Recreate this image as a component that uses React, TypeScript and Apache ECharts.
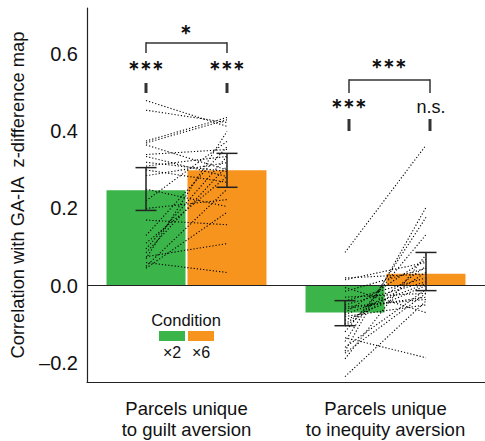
import React, { useEffect, useRef } from "react";
import * as echarts from "echarts";

const categories = ["Parcels unique\nto guilt aversion", "Parcels unique\nto inequity aversion"];
const conditions = ["×2", "×6"];
const meanX2 = [0.247, -0.07];
const meanX6 = [0.299, 0.031];
const errLowX2 = [0.195, -0.104];
const errHighX2 = [0.306, -0.039];
const errLowX6 = [0.255, -0.013];
const errHighX6 = [0.343, 0.086];
const yTicks = [-0.2, 0, 0.2, 0.4, 0.6];

const guiltX2 = [0.48, 0.455, 0.375, 0.37, 0.365, 0.34, 0.335, 0.32, 0.31, 0.3, 0.285, 0.25, 0.22, 0.2, 0.17, 0.13, 0.11, 0.095, 0.085, 0.075, 0.07, 0.06, 0.05, 0.045];
const guiltX6 = [0.413, 0.423, 0.436, 0.43, 0.3, 0.353, 0.283, 0.296, 0.335, 0.268, 0.319, 0.205, 0.374, 0.223, 0.158, 0.36, 0.283, 0.335, 0.31, 0.109, 0.4, 0.034, 0.25, 0.19];
const inequityX2 = [0.086, 0.02, 0.015, -0.005, -0.015, -0.03, -0.04, -0.05, -0.055, -0.06, -0.07, -0.075, -0.08, -0.09, -0.1, -0.105, -0.12, -0.135, -0.145, -0.16, -0.17, -0.175, -0.19, -0.236];
const inequityX6 = [0.364, 0.03, 0.06, -0.07, 0.045, -0.02, 0.02, 0.01, -0.036, -0.03, 0.068, 0.005, -0.05, 0.0, 0.05, 0.035, 0.132, -0.187, 0.177, -0.01, 0.203, -0.02, 0.08, -0.04];

const GREEN = "#3bb54a";
const ORANGE = "#f7941e";
const FONT = "Liberation Sans, Arial, Helvetica, sans-serif";
const HALF = 40.5; // offset from category center to each bar center (px)

export default function App() {
  const ref = useRef<HTMLDivElement>(null);
  useEffect(() => {
    if (!ref.current) return;
    const chart = echarts.init(ref.current, null, { renderer: "svg" });

    const pairData: number[][] = [];
    guiltX2.forEach((v, i) => pairData.push([0, v, guiltX6[i]]));
    inequityX2.forEach((v, i) => pairData.push([1, v, inequityX6[i]]));

    const errData: number[][] = [];
    for (let i = 0; i < categories.length; i++) {
      errData.push([i, errLowX2[i], errHighX2[i], -1]);
      errData.push([i, errLowX6[i], errHighX6[i], 1]);
    }

    const txt = (x: number, y: number, text: string, size: number, bold = false) => ({
      type: "text",
      x,
      y,
      style: {
        text,
        fontSize: size,
        fontFamily: FONT,
        fontWeight: bold ? "bold" : "normal",
        fill: "#111",
        align: "center",
        verticalAlign: "middle",
      },
      z: 100,
    });
    const ln = (x1: number, y1: number, x2: number, y2: number, w = 1.5) => ({
      type: "line",
      shape: { x1, y1, x2, y2 },
      style: { stroke: "#333", lineWidth: w },
      z: 100,
    });
    const STARS = "\u2217\u2217\u2217";

    chart.setOption({
      animation: false,
      grid: { left: 87, top: 8, width: 405, height: 374 },
      xAxis: {
        type: "category",
        data: categories,
        axisLine: { onZero: false, lineStyle: { color: "#222", width: 1.2 } },
        axisTick: { show: false },
        axisLabel: {
          interval: 0,
          hideOverlap: false,
          color: "#111",
          fontSize: 18.5,
          fontFamily: FONT,
          lineHeight: 21,
          margin: 16,
        },
      },
      yAxis: {
        type: "value",
        min: -0.25,
        max: 0.72,
        name: "Correlation with GA-IA  z-difference map",
        nameLocation: "middle",
        nameGap: 61,
        nameTextStyle: { color: "#111", fontSize: 18.3, fontFamily: FONT },
        axisLine: { show: true, lineStyle: { color: "#222", width: 1.2 } },
        axisTick: { show: false },
        splitLine: { show: false },
        axisLabel: {
          customValues: yTicks,
          color: "#111",
          fontSize: 20,
          fontFamily: FONT,
          margin: 9,
          formatter: (v: number) => (v < 0 ? "\u2013" + Math.abs(v).toFixed(1) : v.toFixed(1)),
        },
      },
      series: [
        {
          name: conditions[0],
          type: "bar",
          data: meanX2,
          barWidth: 79,
          barGap: "2.5%",
          itemStyle: { color: GREEN },
          z: 2,
          markLine: {
            silent: true,
            symbol: "none",
            label: { show: false },
            lineStyle: { color: "#222", width: 1.2, type: "solid" },
            data: [{ yAxis: 0 }],
          },
        },
        {
          name: conditions[1],
          type: "bar",
          data: meanX6,
          barWidth: 79,
          barGap: "2.5%",
          itemStyle: { color: ORANGE },
          z: 2,
        },
        {
          type: "custom",
          z: 5,
          data: pairData,
          renderItem: (params: any, api: any) => {
            const c = api.value(0);
            const p1 = api.coord([c, api.value(1)]);
            const p2 = api.coord([c, api.value(2)]);
            return {
              type: "line",
              shape: { x1: p1[0] - HALF, y1: p1[1], x2: p2[0] + HALF, y2: p2[1] },
              style: { stroke: "#000", lineWidth: 1.1, lineDash: [1.2, 2], fill: null },
            };
          },
        },
        {
          type: "custom",
          z: 6,
          data: errData,
          renderItem: (params: any, api: any) => {
            const c = api.value(0);
            const side = api.value(3);
            const lo = api.coord([c, api.value(1)]);
            const hi = api.coord([c, api.value(2)]);
            const x = lo[0] + side * HALF;
            const cap = 10.5;
            const st = { stroke: "#222", lineWidth: 1.5 };
            return {
              type: "group",
              children: [
                { type: "line", shape: { x1: x, y1: lo[1], x2: x, y2: hi[1] }, style: st },
                { type: "line", shape: { x1: x - cap, y1: lo[1], x2: x + cap, y2: lo[1] }, style: st },
                { type: "line", shape: { x1: x - cap, y1: hi[1], x2: x + cap, y2: hi[1] }, style: st },
              ],
            };
          },
        },
      ],
      graphic: [
        // guilt aversion annotations
        txt(186, 29, "\u2217", 14, true),
        ln(146, 43, 227, 43),
        ln(146, 42.3, 146, 53),
        ln(227, 42.3, 227, 53),
        txt(146, 65, STARS, 14, true),
        txt(227, 65, STARS, 14, true),
        ln(146, 83, 146, 93, 3),
        ln(227, 83, 227, 93, 3),
        // inequity aversion annotations
        txt(389, 63, STARS, 14, true),
        ln(349, 80, 430, 80),
        ln(349, 79.3, 349, 93),
        ln(430, 79.3, 430, 93),
        txt(349, 103, STARS, 14, true),
        txt(431, 107, "n.s.", 18),
        ln(349, 119, 349, 131, 3),
        ln(430, 119, 430, 131, 3),
        // legend
        txt(186, 320, "Condition", 16.5),
        { type: "rect", shape: { x: 159, y: 331, width: 26, height: 10 }, style: { fill: GREEN }, z: 100 },
        { type: "rect", shape: { x: 188, y: 331, width: 26, height: 10 }, style: { fill: ORANGE }, z: 100 },
        txt(172, 352, conditions[0], 16),
        txt(201, 352, conditions[1], 16),
      ],
    });
    return () => chart.dispose();
  }, []);
  return (
    <div
      ref={ref}
      style={{ position: "absolute", left: 0, top: 0, width: 485, height: 441, background: "#fff" }}
    />
  );
}
